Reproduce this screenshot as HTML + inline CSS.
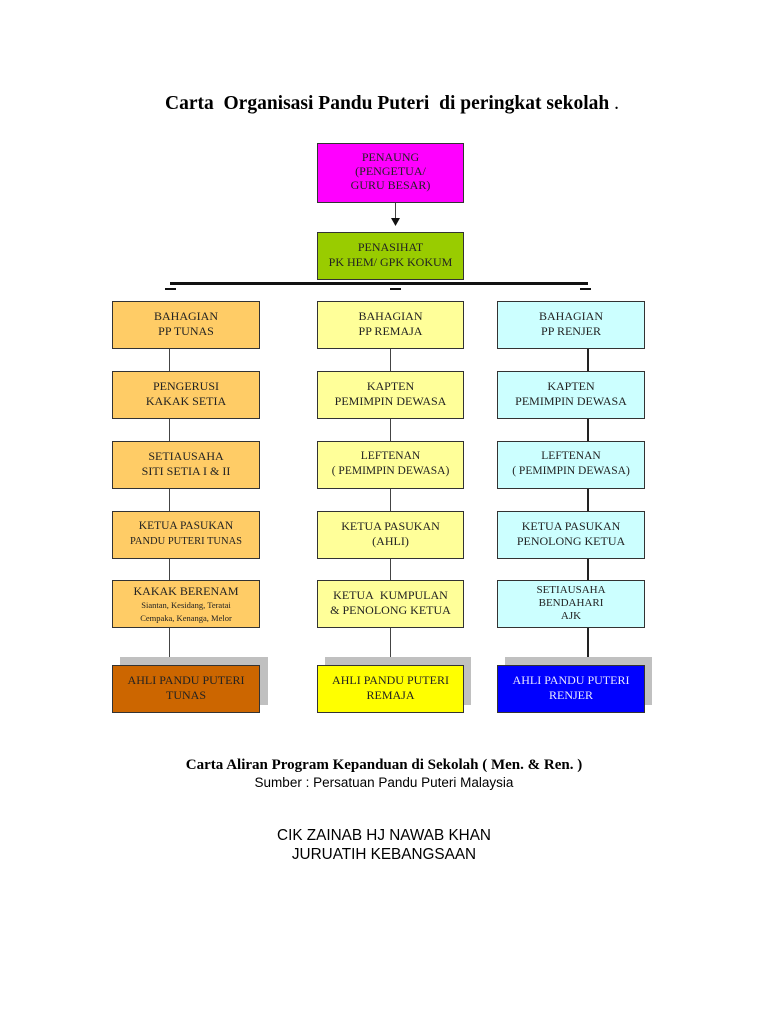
<!DOCTYPE html>
<html><head><style>
body{margin:0;width:768px;height:1024px;background:#fff;position:relative;font-family:"Liberation Serif",serif;}
.b{position:absolute;box-sizing:border-box;border:1px solid #333;text-align:center;font-size:12px;line-height:15px;color:#222;padding-top:7px;}
.v{position:absolute;width:1px;background:#444;}
.sh{position:absolute;background:#c0c0c0;}
.t{position:absolute;left:0;width:768px;text-align:center;}
</style></head><body>
<div class="t" style="top:93px;font-size:19.5px;font-weight:bold;left:8px">Carta&nbsp; Organisasi Pandu Puteri&nbsp; di peringkat sekolah <span style="font-weight:normal">.</span></div>

<div class="b" style="left:317px;top:143px;width:147px;height:60px;background:#ff00ff;padding-top:6px;line-height:14px;font-size:12px">PENAUNG<br>(PENGETUA/<br>GURU BESAR)</div>
<div class="v" style="left:395px;top:203px;height:20px"></div>
<svg style="position:absolute;left:391px;top:218px" width="9" height="9"><polygon points="0,0 9,0 4.5,8" fill="#111"/></svg>
<div class="b" style="left:317px;top:232px;width:147px;height:48px;background:#99cc00">PENASIHAT<br>PK HEM/ GPK KOKUM</div>
<div style="position:absolute;left:170px;top:282px;width:418px;height:3px;background:#111"></div>
<div style="position:absolute;left:165px;top:288px;width:11px;height:2px;background:#111"></div>
<div style="position:absolute;left:390px;top:288px;width:11px;height:2px;background:#111"></div>
<div style="position:absolute;left:580px;top:288px;width:11px;height:2px;background:#111"></div>

<div class="v" style="left:169px;top:348px;height:318px"></div>
<div class="v" style="left:390px;top:348px;height:318px"></div>
<div class="v" style="left:587px;top:348px;height:318px;width:2px;background:#222"></div>

<div class="sh" style="left:120px;top:657px;width:148px;height:48px"></div>
<div class="sh" style="left:325px;top:657px;width:146px;height:48px"></div>
<div class="sh" style="left:505px;top:657px;width:147px;height:48px"></div>

<div class="b" style="left:112px;top:301px;width:148px;height:48px;background:#ffcc66">BAHAGIAN<br>PP TUNAS</div>
<div class="b" style="left:112px;top:371px;width:148px;height:48px;background:#ffcc66">PENGERUSI<br>KAKAK SETIA</div>
<div class="b" style="left:112px;top:441px;width:148px;height:48px;background:#ffcc66">SETIAUSAHA<br>SITI SETIA I &amp; II</div>
<div class="b" style="left:112px;top:511px;width:148px;height:48px;background:#ffcc66;font-size:11.5px">KETUA PASUKAN<br><span style="font-size:10.5px">PANDU PUTERI TUNAS</span></div>
<div class="b" style="left:112px;top:580px;width:148px;height:48px;background:#ffcc66;padding-top:4px;line-height:13px">KAKAK BERENAM<br><span style="font-size:8.5px;line-height:11px">Siantan, Kesidang, Teratai<br>Cempaka, Kenanga, Melor</span></div>
<div class="b" style="left:112px;top:665px;width:148px;height:48px;background:#cc6600">AHLI PANDU PUTERI<br>TUNAS</div>

<div class="b" style="left:317px;top:301px;width:147px;height:48px;background:#ffff99">BAHAGIAN<br>PP REMAJA</div>
<div class="b" style="left:317px;top:371px;width:147px;height:48px;background:#ffff99">KAPTEN<br>PEMIMPIN DEWASA</div>
<div class="b" style="left:317px;top:441px;width:147px;height:48px;background:#ffff99;font-size:11.5px">LEFTENAN<br>( PEMIMPIN DEWASA)</div>
<div class="b" style="left:317px;top:511px;width:147px;height:48px;background:#ffff99">KETUA PASUKAN<br>(AHLI)</div>
<div class="b" style="left:317px;top:580px;width:147px;height:48px;background:#ffff99">KETUA&nbsp; KUMPULAN<br>&amp; PENOLONG KETUA</div>
<div class="b" style="left:317px;top:665px;width:147px;height:48px;background:#ffff00">AHLI PANDU PUTERI<br>REMAJA</div>

<div class="b" style="left:497px;top:301px;width:148px;height:48px;background:#ccffff">BAHAGIAN<br>PP RENJER</div>
<div class="b" style="left:497px;top:371px;width:148px;height:48px;background:#ccffff">KAPTEN<br>PEMIMPIN DEWASA</div>
<div class="b" style="left:497px;top:441px;width:148px;height:48px;background:#ccffff;font-size:11.5px">LEFTENAN<br>( PEMIMPIN DEWASA)</div>
<div class="b" style="left:497px;top:511px;width:148px;height:48px;background:#ccffff">KETUA PASUKAN<br>PENOLONG KETUA</div>
<div class="b" style="left:497px;top:580px;width:148px;height:48px;background:#ccffff;padding-top:3px;line-height:13px;font-size:11px">SETIAUSAHA<br>BENDAHARI<br>AJK</div>
<div class="b" style="left:497px;top:665px;width:148px;height:48px;background:#0000ff;color:#e8e8ff">AHLI PANDU PUTERI<br>RENJER</div>

<div class="t" style="top:757px;font-size:15px;font-weight:bold">Carta Aliran Program Kepanduan di Sekolah ( Men. &amp; Ren. )</div>
<div class="t" style="top:775px;font-size:13.5px;font-family:'Liberation Sans',sans-serif">Sumber : Persatuan Pandu Puteri Malaysia</div>
<div class="t" style="top:827px;font-size:15.3px;font-family:'Liberation Sans',sans-serif">CIK ZAINAB HJ NAWAB KHAN</div>
<div class="t" style="top:846px;font-size:15.3px;font-family:'Liberation Sans',sans-serif">JURUATIH KEBANGSAAN</div>
</body></html>
